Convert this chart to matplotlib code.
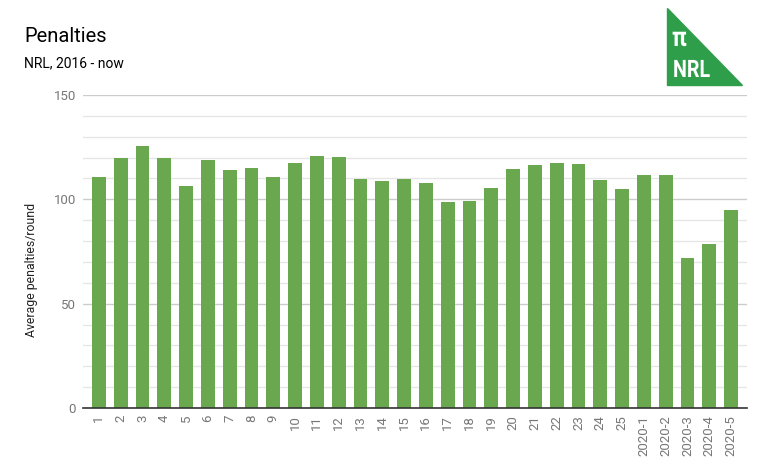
import matplotlib
matplotlib.use('agg')
from matplotlib import pyplot as plt
from matplotlib.patches import Polygon, PathPatch
from matplotlib.textpath import TextPath
from matplotlib.font_manager import FontProperties
from matplotlib.transforms import Affine2D
from matplotlib.ticker import MultipleLocator

plt.rcParams['font.family'] = ['Roboto', 'DejaVu Sans']

rounds = [str(i) for i in range(1, 26)] + ['2020-1', '2020-2', '2020-3', '2020-4', '2020-5']
penalties = [110.5, 119.8, 125.5, 119.8, 106.4, 118.8, 114.0, 115.0, 110.6, 117.4,
             120.7, 120.3, 109.7, 108.8, 109.7, 107.7, 98.6, 99.0, 105.3, 114.4,
             116.3, 117.3, 116.8, 109.1, 104.8, 111.5, 111.5, 71.9, 78.6, 94.7]

BAR_COLOR = '#6aa84f'
LOGO_COLOR = '#2f9e4b'
TICK_COLOR = '#777777'

W, H = 770, 476
fig = plt.figure(figsize=(W / 100, H / 100), dpi=100)
ax = fig.add_axes([83 / W, 1 - 408 / H, 664 / W, 313 / H])

x = range(len(rounds))
ax.bar(x, penalties, width=0.64, color=BAR_COLOR, zorder=3)

# a bit of space between the gridline ends and the outer bars
ax.set_xlim(-0.73, len(rounds) - 0.27)
ax.set_ylim(0, 150)
ax.yaxis.set_major_locator(MultipleLocator(50))
ax.yaxis.set_minor_locator(MultipleLocator(10))
ax.grid(which='major', axis='y', color='#cccccc', linewidth=1, zorder=0)
ax.grid(which='minor', axis='y', color='#e6e6e6', linewidth=1, zorder=0)

for side in ('top', 'right', 'left'):
    ax.spines[side].set_visible(False)
ax.spines['bottom'].set_color('#333333')
ax.spines['bottom'].set_linewidth(1.2)
ax.spines['bottom'].set_zorder(4)

ax.set_xticks(list(x))
ax.set_xticklabels(rounds, rotation=90, fontsize=9.5, color=TICK_COLOR)
ax.tick_params(axis='x', length=0, pad=5)
ax.tick_params(axis='y', which='both', length=0, pad=5, labelsize=9.5, labelcolor=TICK_COLOR)

fig.text(32 / W, 1 - 270 / H, 'Average penalties/round', rotation=90,
         ha='center', va='center', fontsize=8.8, color='#222222')

fig.text(24 / W, 1 - 36 / H, 'Penalties', fontsize=14.5, color='#000000', va='center')
fig.text(24 / W, 1 - 63 / H, 'NRL, 2016 - now', fontsize=10, color='#000000', va='center')

# logo triangle, top right
tri = Polygon([(667, H - 8), (667, H - 85), (742, H - 85)],
              closed=True, transform=None, color=LOGO_COLOR, zorder=5)
fig.patches.append(tri)

bold = FontProperties(family='Roboto', weight='bold')
def logo_text(s, size, x0, y0, sx):
    path = TextPath((0, 0), s, size=size, prop=bold)
    tr = Affine2D().scale(sx, 1).translate(x0, y0)
    fig.patches.append(PathPatch(tr.transform_path(path), transform=None,
                                 color='white', lw=0, zorder=6))

logo_text('π', 27, 672, H - 46, 0.85)
logo_text('NRL', 24, 673, H - 77, 0.82)

fig.savefig('out.png', dpi=100)
